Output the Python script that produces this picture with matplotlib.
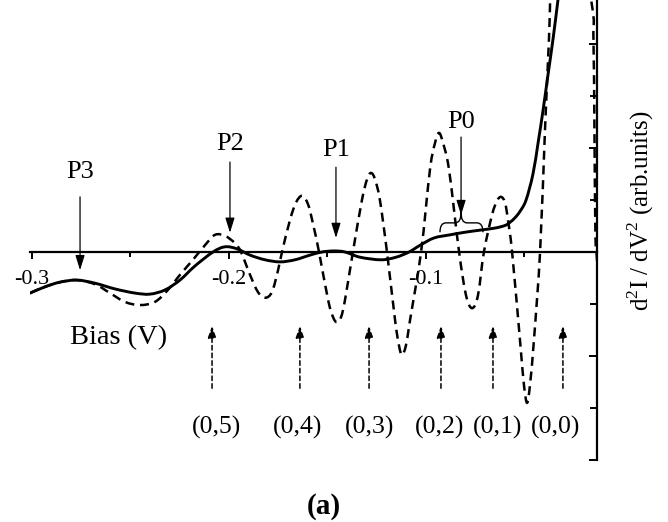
import matplotlib
matplotlib.use("Agg")
import matplotlib.pyplot as plt
from matplotlib.path import Path
from matplotlib.patches import PathPatch
from matplotlib.ticker import MultipleLocator, FixedLocator

plt.rcParams['font.family'] = ['Liberation Serif', 'DejaVu Serif']
plt.rcParams['axes.unicode_minus'] = False
plt.rcParams['mathtext.fontset'] = 'custom'
plt.rcParams['mathtext.rm'] = 'Liberation Serif'

# ---------------- data (bias in V, signal in arb. units) ----------------
solid_x = [-0.3010, -0.2934, -0.2858, -0.2772, -0.2680, -0.2579, -0.2477, -0.2401,
           -0.2325, -0.2249, -0.2173, -0.2081, -0.2020, -0.1959, -0.1893, -0.1817,
           -0.1741, -0.1665, -0.1589, -0.1528, -0.1467, -0.1411, -0.1335, -0.1228,
           -0.1152, -0.1086, -0.1030, -0.0959, -0.0878, -0.0802, -0.0726, -0.0650,
           -0.0599, -0.0574, -0.0548, -0.0523, -0.0492, -0.0457, -0.0431, -0.0406,
           -0.0381, -0.0355, -0.0330, -0.0315]
solid_y = [-0.79, -0.67, -0.58, -0.54, -0.60, -0.71, -0.79, -0.81,
           -0.73, -0.54, -0.27, 0.00, 0.10, 0.06, -0.06, -0.15,
           -0.19, -0.15, -0.06, 0.00, 0.02, 0.00, -0.10, -0.15,
           -0.10, 0.00, 0.13, 0.27, 0.33, 0.38, 0.42, 0.46,
           0.51, 0.57, 0.66, 0.78, 1.00, 1.50, 2.10, 2.72,
           3.40, 4.10, 4.85, 5.30]

dashed_x = [-0.3010, -0.2934, -0.2858, -0.2772, -0.2680, -0.2604, -0.2528, -0.2452,
            -0.2376, -0.2310, -0.2249, -0.2183, -0.2122, -0.2071, -0.2020, -0.1970,
            -0.1939, -0.1893, -0.1853, -0.1817, -0.1782, -0.1751, -0.1731, -0.1690,
            -0.1660, -0.1629, -0.1599, -0.1574, -0.1543, -0.1497, -0.1472, -0.1452,
            -0.1431, -0.1411, -0.1371, -0.1325, -0.1299, -0.1279, -0.1259, -0.1234,
            -0.1198, -0.1157, -0.1137, -0.1122, -0.1102, -0.1081, -0.1025, -0.0980,
            -0.0954, -0.0934, -0.0914, -0.0883, -0.0832, -0.0797, -0.0766, -0.0736,
            -0.0706, -0.0665, -0.0640, -0.0619, -0.0599, -0.0584, -0.0563, -0.0523,
            -0.0503, -0.0487, -0.0472, -0.0452, -0.0421, -0.0396, -0.0376, -0.0360,
            -0.0294, -0.0162, -0.0150, -0.0145, -0.0140, -0.0132, -0.0122]
dashed_y = [-0.79, -0.67, -0.58, -0.54, -0.62, -0.79, -0.96, -1.02,
            -0.96, -0.73, -0.44, -0.15, 0.13, 0.33, 0.31, 0.17,
            0.00, -0.44, -0.77, -0.88, -0.77, -0.35, 0.00, 0.62,
            0.95, 1.08, 0.92, 0.55, 0.00, -0.92, -1.25, -1.35,
            -1.25, -0.92, 0.00, 1.00, 1.40, 1.52, 1.40, 1.00,
            0.00, -1.31, -1.80, -1.98, -1.80, -1.31, 0.00, 1.58,
            2.10, 2.29, 2.10, 1.58, 0.00, -0.83, -1.08, -0.83,
            0.00, 0.71, 0.98, 1.06, 0.95, 0.62, 0.00, -1.69,
            -2.55, -2.90, -2.55, -1.69, 0.00, 2.35, 4.08, 5.42,
            7.50, 4.85, 4.08, 2.35, 0.33, -0.15, -1.00]

xticks_major = [-0.3, -0.2, -0.1]
xtick_labels = ["-0.3", "-0.2", "-0.1"]
xticks_minor = [-0.25, -0.15, -0.05]

peak_labels = ["P3", "P2", "P1", "P0"]
peak_x = [-0.2756, -0.1995, -0.1457, -0.0822]
peak_text_y = [1.54, 2.08, 1.96, 2.50]
peak_tail_y = [1.06, 1.73, 1.63, 2.21]
peak_tip_y = [-0.35, 0.37, 0.27, 0.71]

mode_labels = ["(0,5)", "(0,4)", "(0,3)", "(0,2)", "(0,1)", "(0,0)"]
mode_arrow_x = [-0.2086, -0.1640, -0.1289, -0.0924, -0.0660, -0.0305]
mode_label_x = [-0.2061, -0.1650, -0.1284, -0.0929, -0.0635, -0.0340]


def smooth_path(xs, ys):
    """Catmull-Rom curve through the given points, as cubic Bezier path."""
    verts = [(xs[0], ys[0])]
    codes = [Path.MOVETO]
    n = len(xs)
    for i in range(n - 1):
        x0, y0 = (xs[i - 1], ys[i - 1]) if i > 0 else (xs[i], ys[i])
        x1, y1 = xs[i], ys[i]
        x2, y2 = xs[i + 1], ys[i + 1]
        x3, y3 = (xs[i + 2], ys[i + 2]) if i + 2 < n else (x2, y2)
        c1 = (x1 + (x2 - x0) / 6.0, y1 + (y2 - y0) / 6.0)
        c2 = (x2 - (x3 - x1) / 6.0, y2 - (y3 - y1) / 6.0)
        verts += [c1, c2, (x2, y2)]
        codes += [Path.CURVE4] * 3
    return Path(verts, codes)


# ---------------- figure ----------------
fig = plt.figure(figsize=(6.68, 5.22), dpi=100, facecolor='white')
ax = fig.add_axes([30/668, 62/522, 567/668, 460/522])
ax.set_xlim(-0.3010, -0.0132)
ax.set_ylim(-4.0, 4.846)

ax.add_patch(PathPatch(smooth_path(solid_x, solid_y), fill=False, color='black',
                       lw=2.1, capstyle='round', joinstyle='round'))
ax.add_patch(PathPatch(smooth_path(dashed_x, dashed_y), fill=False, color='black',
                       lw=1.8, linestyle=(0, (3.6, 2.3))))

for s in ['left', 'top']:
    ax.spines[s].set_visible(False)
ax.spines['bottom'].set_position(('data', 0))
ax.spines['bottom'].set_linewidth(1.6)
ax.spines['right'].set_linewidth(1.6)

ax.xaxis.set_major_locator(FixedLocator(xticks_major))
ax.set_xticklabels(xtick_labels)
ax.xaxis.set_minor_locator(FixedLocator(xticks_minor))
ax.tick_params(axis='x', which='major', direction='out', length=5, width=1.4,
               pad=8, labelsize=16)
ax.tick_params(axis='x', which='minor', direction='out', length=3.5, width=1.4)

ax.yaxis.tick_right()
ax.yaxis.set_major_locator(MultipleLocator(2))
ax.yaxis.set_minor_locator(MultipleLocator(1))
ax.tick_params(axis='y', which='both', direction='in', labelright=False,
               labelleft=False, width=1.4)
ax.tick_params(axis='y', which='major', length=6)
ax.tick_params(axis='y', which='minor', length=5)

# peak arrows
for lab, px, ty, t0, t1 in zip(peak_labels, peak_x, peak_text_y, peak_tail_y, peak_tip_y):
    ax.text(px, ty, lab, ha='center', va='center', fontsize=19)
    ax.annotate('', xy=(px, t1), xytext=(px, t0),
                arrowprops=dict(arrowstyle='-|>,head_length=0.9,head_width=0.28',
                                lw=0.9, color='black', shrinkA=0, shrinkB=0,
                                mutation_scale=10))

# brace under P0
bx0, bxc, bx1 = -0.0929, -0.0822, -0.0711
by_end, by_mid, by_tip = 0.38, 0.56, 0.76
q = 0.0030
verts = [(bx0, by_end), (bx0, by_mid), (bx0 + q, by_mid),
         (bxc - q, by_mid), (bxc, by_mid), (bxc, by_tip),
         (bxc, by_mid), (bxc + q, by_mid),
         (bx1 - q, by_mid), (bx1, by_mid), (bx1, by_end)]
codes = [Path.MOVETO, Path.CURVE3, Path.CURVE3,
         Path.LINETO, Path.CURVE3, Path.CURVE3,
         Path.CURVE3, Path.CURVE3,
         Path.LINETO, Path.CURVE3, Path.CURVE3]
ax.add_patch(PathPatch(Path(verts, codes), fill=False, lw=1.0, color='black'))

# mode arrows
for lab, ax_x, lx in zip(mode_labels, mode_arrow_x, mode_label_x):
    ax.annotate('', xy=(ax_x, -1.42), xytext=(ax_x, -2.62),
                arrowprops=dict(arrowstyle='-|>,head_length=0.7,head_width=0.25',
                                lw=1.1, color='black', linestyle=(0, (3, 2)),
                                shrinkA=0, shrinkB=0, mutation_scale=10))
    ax.text(lx, -3.37, lab, ha='center', va='center', fontsize=18.5)

ax.text(-0.2558, -1.65, "Bias (V)", ha='center', va='center', fontsize=20.5)

fig.text(641/668, 1 - 211/522, r"d$^{\mathrm{2}}$I / dV$^{\mathrm{2}}$ (arb.units)",
         rotation=90, ha='center', va='center', fontsize=18)
fig.text(324/668, 1 - 506/522, "(a)", ha='center', va='center', fontsize=21,
         fontweight='bold')

fig.savefig('out.png', dpi=100, facecolor='white')
